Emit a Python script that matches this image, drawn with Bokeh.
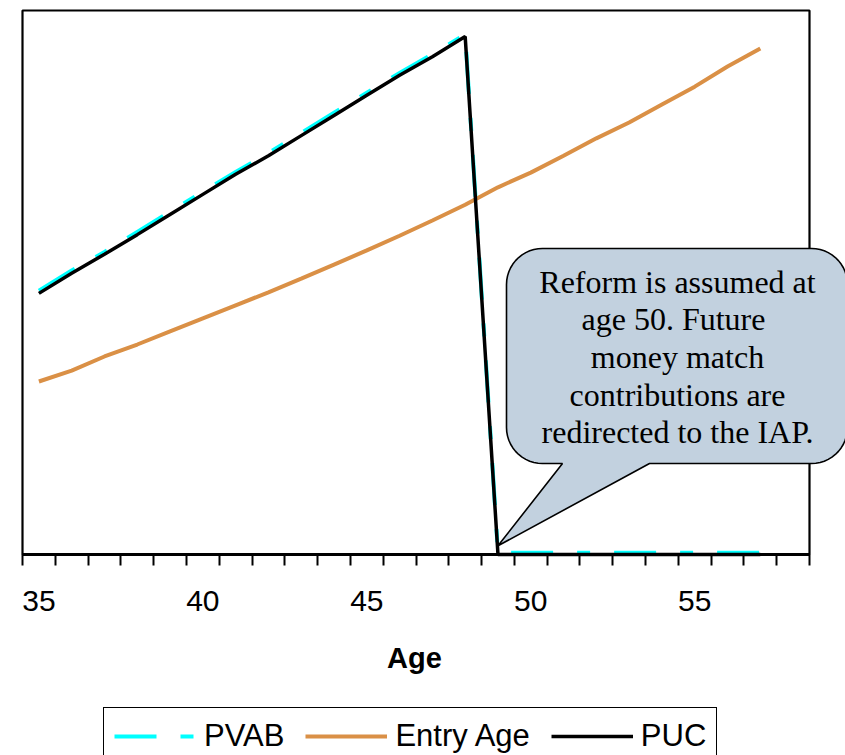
import numpy as np
from bokeh.plotting import figure
from bokeh.models import (Range1d, FixedTicker, Legend, LegendItem, PolyAnnotation, Label,
                          LinearAxis, BoxAnnotation)
from bokeh.embed import file_html
from bokeh.resources import INLINE

# ---- data ----
ages = list(range(35, 58))
pvab = [48.5, 52.2, 55.6, 59.3, 63.0, 66.7, 70.3, 73.8, 77.5, 81.2, 84.9, 88.5, 92.0, 95.6,
        0.3, 0.3, 0.3, 0.3, 0.3, 0.3, 0.3, 0.3, 0.3]
entry_age = [31.8, 33.8, 36.4, 38.6, 41.0, 43.4, 45.8, 48.2, 50.7, 53.3, 55.9, 58.6, 61.4, 64.3,
             67.5, 70.2, 73.3, 76.5, 79.4, 82.7, 86.0, 89.7, 93.0]
puc = [48.0, 51.7, 55.2, 58.8, 62.5, 66.2, 69.9, 73.3, 77.0, 80.7, 84.4, 88.1, 91.5, 95.2,
       0.0, 0.0, 0.0, 0.0, 0.0, 0.0, 0.0, 0.0, 0.0]
tick_ages = [35, 40, 45, 50, 55]
category_edges = [a - 0.5 for a in range(35, 60)]
series_names = ["PVAB", "Entry Age", "PUC"]
x_title = "Age"
callout_lines = ["Reform is assumed at", "age 50.  Future", "money match",
                 "contributions are", "redirected to the IAP."]
reform_age = 49
reform_tip_value = 1.6

# ---- layout (pixels) ----
W, H = 845, 755
PLOT_L, PLOT_R, PLOT_T, PLOT_B = 22, 809, 10, 554
X_LO, X_HI = 34.5, 58.5
Y_LO, Y_HI = 0.0, 100.0
px_per_x = (PLOT_R - PLOT_L) / (X_HI - X_LO)
px_per_y = (PLOT_B - PLOT_T) / (Y_HI - Y_LO)


def dx(px):
    """page pixel x -> data x"""
    return X_LO + (px - PLOT_L) / px_per_x


def dy(py):
    """page pixel y (from top) -> data y"""
    return Y_LO + (PLOT_B - py) / px_per_y


p = figure(width=W, height=H,
           x_range=Range1d(dx(0), dx(W)), y_range=Range1d(dy(H), dy(0)),
           min_border_left=0, min_border_right=0, min_border_top=0, min_border_bottom=0,
           x_axis_location=None, y_axis_location=None,
           output_backend="svg", toolbar_location=None)
p.xgrid.visible = False
p.ygrid.visible = False
p.outline_line_color = None
p.background_fill_color = "white"
p.border_fill_color = "white"

# plot-area border
p.add_layout(BoxAnnotation(left=X_LO, right=X_HI, bottom=Y_LO, top=Y_HI,
                           fill_alpha=0, line_color="black", line_alpha=1.0, line_width=2.2,
                           level="underlay"))

r_pvab = p.line(ages, pvab, line_color="#00FFFF", line_width=4, line_dash="42 24 13 24")
r_entry = p.line(ages, entry_age, line_color="#DA9046", line_width=4)
r_puc = p.line(ages, puc, line_color="black", line_width=3.5)

xa = LinearAxis(fixed_location=Y_LO, bounds=(X_LO, X_HI),
                ticker=FixedTicker(ticks=tick_ages, minor_ticks=category_edges))
xa.major_tick_in = 0
xa.major_tick_out = 0
xa.minor_tick_in = 0
xa.minor_tick_out = 11
xa.minor_tick_line_width = 2
xa.minor_tick_line_color = "black"
xa.axis_line_width = 3
xa.axis_line_color = "black"
xa.major_label_text_font = "Liberation Sans"
xa.major_label_text_font_size = "30px"
xa.major_label_text_color = "black"
xa.major_label_standoff = 25
p.add_layout(xa, "below")

# axis title
p.add_layout(Label(x=dx(414), y=dy(657), text=x_title, text_align="center",
                   text_baseline="middle", text_font="Liberation Sans",
                   text_font_style="bold", text_font_size="29px", text_color="black"))

# ---- callout (page pixels) ----
L, R, B, T, rad = 506, 847, 463, 248, 36
base_l, base_r = 562, 649
tip_px = PLOT_L + (reform_age - X_LO) * px_per_x
tip_py = PLOT_B - (reform_tip_value - Y_LO) * px_per_y


def arc(cx, cy, a0, a1, n=14):
    t = np.linspace(np.radians(a0), np.radians(a1), n)
    return list(cx + rad * np.cos(t)), list(cy + rad * np.sin(t))


xs, ys = [L + rad, base_l, tip_px, base_r, R - rad], [B, B, tip_py, B, B]
for cx, cy, a0, a1 in [(R - rad, B - rad, 90, 0), (R - rad, T + rad, 0, -90),
                       (L + rad, T + rad, -90, -180), (L + rad, B - rad, 180, 90)]:
    ax, ay = arc(cx, cy, a0, a1)
    xs += ax
    ys += ay

p.add_layout(PolyAnnotation(xs=[dx(v) for v in xs], ys=[dy(v) for v in ys],
                            fill_color="#C2D1DF", fill_alpha=1.0,
                            line_color="black", line_alpha=1.0, line_width=1.6))

text_cx = 677
mids = [281.2, 318.7, 356.6, 394.2, 431.6]
for line, my in zip(callout_lines, mids):
    p.add_layout(Label(x=dx(text_cx), y=dy(my), text=line, text_align="center",
                       text_baseline="middle", text_font="Liberation Serif",
                       text_font_size="32px", text_color="black"))

LEG_PAD, LEG_H = 10, 59
legend = Legend(items=[LegendItem(label=series_names[0], renderers=[r_pvab]),
                       LegendItem(label=series_names[1], renderers=[r_entry]),
                       LegendItem(label=series_names[2], renderers=[r_puc])],
                orientation="horizontal", location=(103, H - 706 - LEG_H),
                label_text_font="Liberation Sans", label_text_font_size="31px",
                label_text_color="black",
                glyph_width=82, glyph_height=30, label_standoff=8, spacing=21,
                padding=LEG_PAD, margin=0, border_line_color="black", border_line_width=1.5,
                border_line_alpha=1.0,
                background_fill_color="white", background_fill_alpha=1.0)
p.add_layout(legend, "center")

open("out.html", "w").write(file_html(p, INLINE))
